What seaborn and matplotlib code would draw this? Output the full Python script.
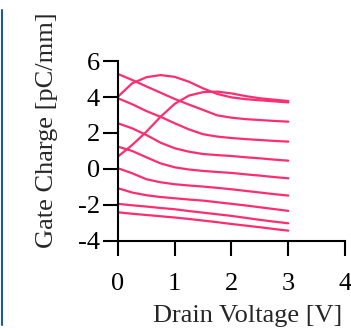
import matplotlib
matplotlib.use("Agg")
import matplotlib.pyplot as plt
from matplotlib.lines import Line2D
import numpy as np
import pandas as pd
import seaborn as sns

# Drain voltage sample points [V]
drain_v = [0, 0.25, 0.5, 0.75, 1.0, 1.25, 1.5, 1.75, 2.0, 2.25, 2.5, 2.75, 3.0]

# Gate charge [pC/mm] for each gate bias
q1 = [5.28, 4.95, 4.59, 4.24, 3.89, 3.58, 3.28, 2.98, 2.85, 2.77, 2.72, 2.67, 2.63]
q2 = [4.02, 4.76, 5.10, 5.22, 5.12, 4.85, 4.48, 4.17, 3.98, 3.88, 3.82, 3.76, 3.70]
q3 = [0.69, 1.33, 2.07, 2.90, 3.62, 4.08, 4.27, 4.30, 4.20, 4.05, 3.93, 3.85, 3.78]
q4 = [3.93, 3.60, 3.22, 2.90, 2.54, 2.20, 1.93, 1.80, 1.72, 1.66, 1.61, 1.56, 1.52]
q5 = [2.54, 2.26, 1.89, 1.46, 1.15, 0.96, 0.83, 0.77, 0.72, 0.65, 0.59, 0.52, 0.46]
q6 = [1.24, 1.00, 0.65, 0.31, 0.09, -0.03, -0.11, -0.17, -0.22, -0.30, -0.37, -0.45, -0.52]
q7 = [0.04, -0.24, -0.57, -0.74, -0.85, -0.92, -0.98, -1.05, -1.13, -1.22, -1.31, -1.40, -1.48]
q8 = [-1.07, -1.31, -1.46, -1.56, -1.63, -1.70, -1.76, -1.85, -1.94, -2.03, -2.13, -2.23, -2.33]
q9 = [-1.94, -2.02, -2.09, -2.17, -2.24, -2.34, -2.43, -2.52, -2.61, -2.72, -2.83, -2.93, -3.02]
q10 = [-2.41, -2.49, -2.56, -2.63, -2.70, -2.78, -2.87, -2.96, -3.06, -3.15, -3.24, -3.34, -3.43]

curves = [q1, q2, q3, q4, q5, q6, q7, q8, q9, q10]

x_ticks = [0, 1, 2, 3, 4]
y_ticks = [-4, -2, 0, 2, 4, 6]

rows = []
for i, q in enumerate(curves):
    for v, c in zip(drain_v, q):
        rows.append({"curve": i, "vd": v, "q": c})
df = pd.DataFrame(rows)

sns.set_style("ticks")
plt.rcParams["font.family"] = ["Liberation Serif", "DejaVu Serif"]

line_color = "#FF2D6F"
fs = 19

fig = plt.figure(figsize=(3.51, 3.30), dpi=100)
ax = fig.add_axes([0.336, 0.270, 0.647, 0.545])

sns.lineplot(data=df, x="vd", y="q", hue="curve", units="curve", estimator=None,
             palette=[line_color] * len(curves), legend=False, linewidth=1.6, ax=ax)

ax.set_xlim(0, 4)
ax.set_ylim(-4, 6)
ax.set_xticks(x_ticks)
ax.set_yticks(y_ticks)
ax.set_xticklabels([str(t) for t in x_ticks])
ax.set_yticklabels([str(t) for t in y_ticks])

for side in ["top", "right"]:
    ax.spines[side].set_visible(False)
for side in ["left", "bottom"]:
    ax.spines[side].set_linewidth(1.5)
    ax.spines[side].set_color("black")

ax.tick_params(axis="both", direction="out", length=11, width=1.5, colors="black",
               labelsize=fs)
ax.tick_params(axis="x", pad=12)
ax.tick_params(axis="y", pad=2)

ax.set_xlabel("Drain Voltage [V]", fontsize=fs)
ax.set_ylabel("Gate Charge [pC/mm]", fontsize=fs)
ax.xaxis.set_label_coords(0.573, -0.355)
ax.yaxis.set_label_coords(-0.265, 0.615)

# thin frame edge at the left of the figure
fig.add_artist(Line2D([1.5 / 351, 1.5 / 351], [1 - 10 / 330, 1 - 325 / 330],
                      color="#1c5b99", linewidth=1.5))

fig.savefig("out.png", dpi=100)
